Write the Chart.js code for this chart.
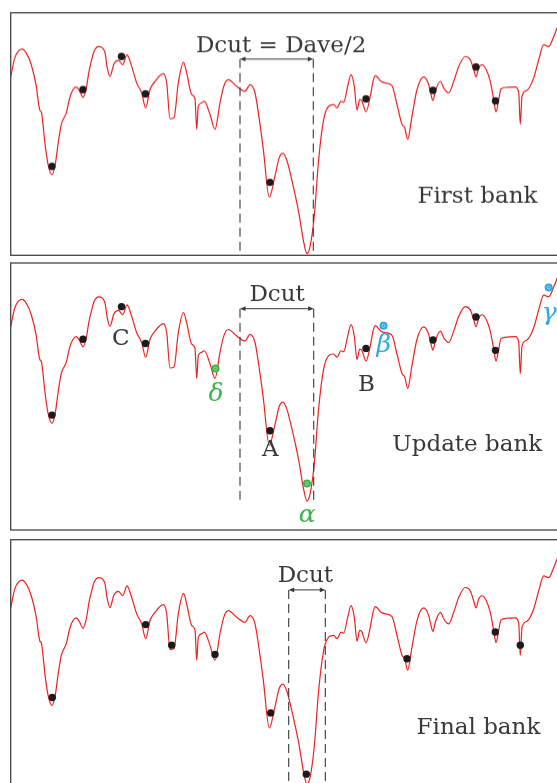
<!DOCTYPE html>
<html>
<head>
<meta charset="utf-8">
<script src="https://cdn.jsdelivr.net/npm/chart.js@4.4.1/dist/chart.umd.min.js"></script>
<style>
  html, body { margin: 0; padding: 0; background: #fff; }
  #wrap { position: relative; width: 557px; height: 783px; overflow: hidden; background: #fff; }
  #wrap canvas { position: absolute; left: 0; }
</style>
</head>
<body>
<div id="wrap">
  <canvas id="bank1"></canvas>
  <canvas id="bank2"></canvas>
  <canvas id="bank3"></canvas>
</div>
<script>
// Energy landscape along the reaction coordinate (arbitrary units)
const coord = [
  0, 4, 7.3, 11.3, 15.6, 20.6, 25.6, 28, 29.3, 30.6, 32.3, 34, 37.3, 41.3, 44.6, 47.3, 50.6, 55.6, 59,
  62.3, 65.6, 69, 72.3, 75.6, 78.3, 80.6, 83.3, 88, 94, 96.6, 99.3, 103.3, 107.8, 112, 116.3, 121,
  126, 131, 135, 139.3, 144.3, 152.6, 156, 159.3, 163.3, 167.6, 172.8, 176, 181, 184.3, 186, 187.6,
  191, 193.6, 199.3, 204.3, 209.3, 213.3, 217.6, 226, 234.3, 239.3, 244.3, 249.3, 252.6, 258.6,
  264.3, 268.6, 272.3, 276.3, 281.3, 288, 293, 296.3, 299.6, 303.6, 308, 313, 318, 323, 326.3,
  330.3, 333, 337, 340.3, 343.6, 346.3, 349, 351.3, 355.3, 359.6, 362.3, 364.6, 370.3, 374.6,
  381.3, 386.3, 391.3, 394, 397, 401.3, 406.3, 413, 418, 420.3, 422.3, 424.6, 429.6, 433.6, 438,
  443, 448, 454.6, 459.6, 463, 465.3, 468, 471.3, 475.6, 479.6, 483, 485.3, 488, 490.3, 496.3,
  504.6, 508, 509.6, 511.3, 516.3, 523, 528, 533, 538, 543, 546.3, 549.3
];
const energy = [
  179.4, 198.4, 205, 207.4, 203.4, 191.7, 170, 151.7, 145.7, 144.4, 131.7, 115, 91.7, 81, 91.7, 111.7, 131.7, 143.4, 158.4,
  166.7, 169.4, 165, 159, 168.4, 185, 195, 205, 210, 205, 188.4, 180, 192.7, 196.2, 191.7, 201.7, 190,
  173.4, 163.4, 148.4, 166.7, 175, 182.7, 173.4, 137.4, 138.4, 173.4, 194, 183.4, 161.7, 157.4, 126.7, 150,
  153.4, 155, 141.7, 126.7, 153.4, 170.7, 176.7, 170, 165, 171.7, 163.4, 131.7, 106.7, 58.4,
  80, 98.4, 102.7, 95, 75, 43.4, 13.4, 1.7, 10, 40, 96.7, 136.7, 150, 151.7, 148.4,
  155, 154, 170, 181.7, 170, 146, 156.7, 155, 144.4, 160, 175, 180.7, 175, 173.4,
  170.7, 151.7, 131.7, 128.4, 116.7, 140, 166.7, 179.4, 171.7, 161.7, 155.7, 165, 175, 167.4, 163.4,
  175, 190, 200, 196.7, 186.7, 179.4, 188.4, 191.7, 186.7, 175, 156.7, 144.4, 156.7, 167.4, 169,
  169.4, 164, 131.7, 160, 166, 178.4, 196.7, 211.7, 210, 220, 228.4, 236.7
];

// Conformations held in each bank
const firstBankX = [41.3, 72.3, 110.8, 134.8, 259.3, 355.3, 422.3, 465.3, 484.8];
const firstBankE = [89.4, 166.7, 200, 162.4, 73.4, 157.4, 166, 189.4, 155.4];

const updateBankX = [41.3, 72.3, 110.8, 134.8, 259.3, 355.3, 422.3, 465.3, 484.8];
const updateBankE = [89.4, 166.7, 200, 162.4, 73.4, 157.4, 166, 189.4, 155.4];
const acceptedX = [204.8, 296.3];      // delta, alpha
const acceptedE = [136.9, 19.5];
const candidateX = [372.8, 538];       // beta, gamma
const candidateE = [180.5, 219.5];

const finalBankX = [41.6, 135, 161, 204.3, 260, 295.6, 396.3, 484.6, 509.6];
const finalBankE = [89.2, 162.6, 141.9, 132.6, 73.6, 11.9, 128.2, 155.2, 141.9];

// Cut-off windows around the lowest conformation
const firstCut = [229.3, 302.6];
const updateCut = [229.3, 303];
const finalCut = [278, 314.6];

const LATIN = '23px "DejaVu Serif", serif';
const GREEK = 'italic 25px "DejaVu Serif", serif';
const INK = '#383838';
const GREEN = '#3bb54a';
const BLUE = '#2aa8e0';
const RED = 'rgb(238, 32, 32)';

const xy = (xs, ys) => xs.map((v, i) => ({ x: v, y: ys[i] }));
const curve = xy(coord, energy);

function drawLabel(ctx, l, sx, sy) {
  ctx.font = l.font;
  ctx.fillStyle = l.color;
  ctx.textAlign = 'center';
  ctx.textBaseline = 'alphabetic';
  const m = ctx.measureText(l.text);
  const px = sx.getPixelForValue(l.at[0]);
  const py = sy.getPixelForValue(l.at[1]);
  const dx = (m.actualBoundingBoxRight - m.actualBoundingBoxLeft) / 2;
  let base = py;
  if (l.box) base = py + (m.actualBoundingBoxAscent - m.actualBoundingBoxDescent) / 2;
  ctx.fillText(l.text, px - dx, base);
}

function arrowHead(ctx, x, y, dir) {
  ctx.beginPath();
  ctx.moveTo(x, y);
  ctx.lineTo(x + dir * 5.5, y - 2.4);
  ctx.lineTo(x + dir * 5.5, y + 2.4);
  ctx.closePath();
  ctx.fill();
}

function overlay(p) {
  return {
    id: 'overlay',
    afterDatasetsDraw(chart) {
      const { ctx, chartArea: a, scales: { x, y } } = chart;
      ctx.save();
      const yArrow = y.getPixelForValue(p.arrowE);
      const yEnd = p.lineEndE === null ? a.bottom : y.getPixelForValue(p.lineEndE);
      const x1 = x.getPixelForValue(p.cut[0]);
      const x2 = x.getPixelForValue(p.cut[1]);
      // dashed window bounds
      ctx.strokeStyle = INK;
      ctx.lineWidth = 1.1;
      ctx.setLineDash([9, 5]);
      [x1, x2].forEach(px => {
        ctx.beginPath();
        ctx.moveTo(px, yArrow);
        ctx.lineTo(px, yEnd);
        ctx.stroke();
      });
      ctx.setLineDash([]);
      // double arrow
      ctx.fillStyle = INK;
      ctx.lineWidth = 1;
      ctx.beginPath();
      ctx.moveTo(x1 + 3, yArrow);
      ctx.lineTo(x2 - 3, yArrow);
      ctx.stroke();
      arrowHead(ctx, x1, yArrow, 1);
      arrowHead(ctx, x2, yArrow, -1);
      // labels
      p.labels.forEach(l => drawLabel(ctx, l, x, y));
      // frame
      ctx.strokeStyle = '#444';
      ctx.lineWidth = 1.3;
      ctx.strokeRect(a.left, a.top, a.width, a.height);
      ctx.restore();
    }
  };
}

function dotSet(points, color, r) {
  return {
    type: 'scatter', data: points, showLine: false,
    pointRadius: r, pointHoverRadius: r, pointBackgroundColor: color,
    pointBorderColor: color, pointBorderWidth: 0, order: 1
  };
}
function ringSet(points, color) {
  return {
    type: 'scatter', data: points, showLine: false,
    pointRadius: 1.6, pointHoverRadius: 1.6, pointBackgroundColor: 'rgba(0,0,0,0)',
    pointBorderColor: color, pointBorderWidth: 0.8, order: 0
  };
}

function makeBank(id, p) {
  const cv = document.getElementById(id);
  cv.width = 570; cv.height = p.height;
  cv.style.top = p.top + 'px';
  cv.style.width = '570px'; cv.style.height = p.height + 'px';
  const datasets = [{
    type: 'line', data: curve, borderColor: RED, borderWidth: 1.2,
    pointRadius: 0, fill: false, cubicInterpolationMode: 'monotone', order: 5
  }];
  p.sets.forEach(s => datasets.push(s));
  return new Chart(cv, {
    type: 'scatter',
    data: { datasets },
    options: {
      responsive: false, animation: false, devicePixelRatio: 1, events: [],
      layout: { padding: { left: 10.7, right: 10, top: p.padTop, bottom: p.padBottom } },
      scales: {
        x: { type: 'linear', min: 0, max: 549.3, display: false },
        y: { type: 'linear', min: p.yMin, max: p.yMax, display: false }
      },
      plugins: { legend: { display: false }, tooltip: { enabled: false } }
    },
    plugins: [overlay(p)]
  });
}

makeBank('bank1', {
  top: 0, height: 258.5, padTop: 12.7, padBottom: 1.8, yMin: 0, yMax: 244,
  cut: firstCut, arrowE: 197.4, lineEndE: null,
  sets: [dotSet(xy(firstBankX, firstBankE), '#1b1b1b', 3.7)],
  labels: [
    { text: 'Dcut = Dave/2', at: [270.1, 204.4], font: LATIN, color: INK },
    { text: 'First bank', at: [467.8, 52.7], font: LATIN, color: INK }
  ]
});

makeBank('bank2', {
  top: 258.5, height: 275.5, padTop: 1.2, padBottom: 2, yMin: -27.8, yMax: 244.5,
  cut: updateCut, arrowE: 197.9, lineEndE: 1.2,
  sets: [
    dotSet(xy(updateBankX, updateBankE), '#1b1b1b', 3.7),
    dotSet(xy(acceptedX, acceptedE), GREEN, 4),
    ringSet(xy(acceptedX, acceptedE), 'rgba(200,240,200,0.8)'),
    dotSet(xy(candidateX, candidateE), BLUE, 4),
    ringSet(xy(candidateX, candidateE), 'rgba(200,235,250,0.8)')
  ],
  labels: [
    { text: 'Dcut', at: [267.3, 206.2], font: LATIN, color: INK },
    { text: 'Update bank', at: [457.6, 53.2], font: LATIN, color: INK },
    { text: 'C', at: [110.3, 168.7], font: LATIN, color: INK, box: true },
    { text: 'A', at: [259.3, 55.4], font: LATIN, color: INK, box: true },
    { text: 'B', at: [355.8, 122.4], font: LATIN, color: INK, box: true },
    { text: 'δ', at: [204.8, 113.7], font: GREEK, color: GREEN, box: true },
    { text: 'α', at: [297, -13], font: GREEK, color: GREEN, box: true },
    { text: 'β', at: [372.3, 160.9], font: GREEK, color: BLUE, box: true },
    { text: 'γ', at: [539.6, 190.4], font: GREEK, color: BLUE, box: true }
  ]
});

makeBank('bank3', {
  top: 536, height: 260, padTop: 1.7, padBottom: 6, yMin: -4.1, yMax: 248.2,
  cut: finalCut, arrowE: 197.6, lineEndE: null,
  sets: [dotSet(xy(finalBankX, finalBankE), '#1b1b1b', 3.7)],
  labels: [
    { text: 'Dcut', at: [295.5, 205.2], font: LATIN, color: INK },
    { text: 'Final bank', at: [468.8, 51.9], font: LATIN, color: INK }
  ]
});
</script>
</body>
</html>
